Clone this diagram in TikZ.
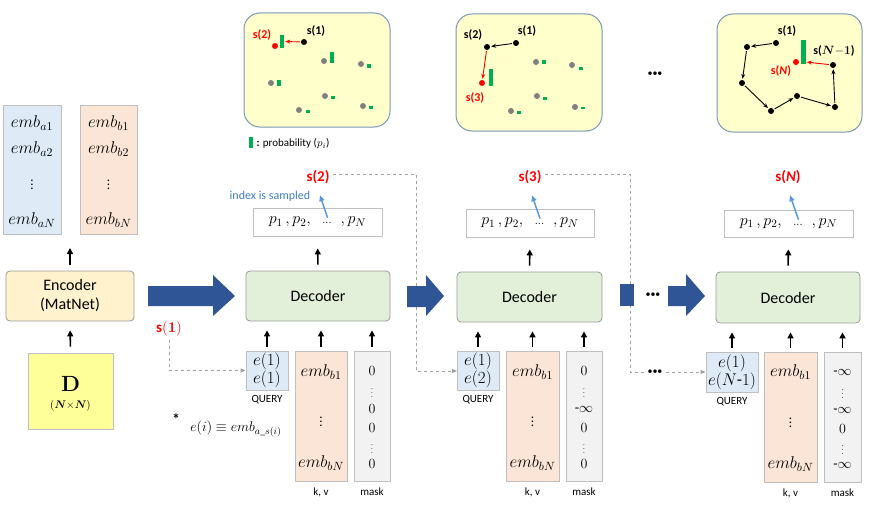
\documentclass[tikz,border=0pt]{standalone}
\usepackage{fix-cm}
\usepackage{amsmath}
\usepackage[no-math]{fontspec}
\setmainfont{Carlito}
\usetikzlibrary{arrows.meta,calc}
\definecolor{embA}{HTML}{DEEBF7}
\definecolor{embB}{HTML}{FBE5D6}
\definecolor{encF}{HTML}{FFF2CC}
\definecolor{dF}{HTML}{FFFF99}
\definecolor{decF}{HTML}{E2F0D9}
\definecolor{maskF}{HTML}{F2F2F2}
\definecolor{panelF}{HTML}{FFFFCC}
\definecolor{panelB}{HTML}{7A96B8}
\definecolor{bigblue}{HTML}{2F5597}
\definecolor{barG}{HTML}{00B050}
\definecolor{dotG}{HTML}{808080}
\definecolor{boxB}{HTML}{BFBFBF}
\definecolor{lblue}{HTML}{5B9BD5}
\definecolor{tblue}{HTML}{3D7CC0}
\definecolor{dashG}{HTML}{A0A0A0}
\newcommand{\pline}{$p_1\,, p_2,\;\;{\scriptstyle\dots}\;\;,p_N$}
\begin{document}
\begin{tikzpicture}[x=1pt,y=-1pt,
  box/.style={draw=boxB, line width=0.8pt, inner sep=0pt},
  rbox/.style={box, rounded corners=4pt, draw=dotG!80},
  blk/.style={-{Triangle[length=6pt,width=6pt]}, line width=1.6pt},
  dashln/.style={draw=dashG, dashed, line width=0.8pt},
  darr/.style={dashln, -{Triangle[length=5pt,width=4pt,fill=dashG]}},
  emb/.style={inner sep=0.5pt, font=\fontsize{17}{20}\selectfont},
  vd/.style={inner sep=0.5pt, font=\fontsize{13}{15}\selectfont},
  mk/.style={inner sep=0.5pt, font=\fontsize{14}{16}\selectfont},
  mkd/.style={inner sep=0.5pt, font=\fontsize{7}{8}\selectfont},
  slbl/.style={text=red, font=\fontsize{15}{17}\selectfont\bfseries},
  plbl/.style={inner sep=1pt, font=\fontsize{12}{14}\selectfont\bfseries},
  small/.style={inner sep=1pt, font=\fontsize{11}{13}\selectfont},
  big16/.style={font=\fontsize{16}{19}\selectfont},
  qtxt/.style={font=\fontsize{17}{13}\selectfont},
  panel/.style={draw=panelB, fill=panelF, line width=1pt, rounded corners=16pt, inner sep=0pt},
  pt/.style={circle, fill=black, inner sep=0pt, minimum size=6pt},
  gpt/.style={pt, fill=dotG},
  rpt/.style={pt, fill=red},
  gbar/.style={fill=barG, inner sep=0pt, minimum width=4pt},
  parr/.style={-{Stealth[length=5pt,width=4pt]}, line width=0.9pt, shorten >=1pt, shorten <=1pt},
  big/.style={fill=bigblue}
]
\useasboundingbox (0,0) rectangle (872,511);

% ---------- left column ----------
\node[box, fill=embA, minimum width=58pt, minimum height=129pt] (ea) at (32,169.5) {};
\node[box, fill=embB, minimum width=57pt, minimum height=129pt] (eb) at (108.5,169.5) {};
\node[emb] (ea1) at (32,123) {$emb_{a1}$};
\node[emb] (ea2) at (32,149) {$emb_{a2}$};
\node[vd] (ead) at (32,182) {$\vdots$};
\node[emb] (eaN) at (32,220) {$emb_{aN}$};
\node[emb] (eb1) at (108.5,123) {$emb_{b1}$};
\node[emb] (eb2) at (108.5,149) {$emb_{b2}$};
\node[vd] (ebd) at (108.5,182) {$\vdots$};
\node[emb] (ebN) at (108.5,220) {$emb_{bN}$};
\coordinate (embgap) at (70,248);

\node[rbox, fill=encF, minimum width=128pt, minimum height=50pt, align=center,
      font=\fontsize{16}{19}\selectfont] (enc) at (70,296) {Encoder\\(MatNet)};
\node[box, fill=dF, minimum width=85pt, minimum height=76pt] (D) at (70.5,391) {};
\node (Dt) at (70.5,384) {\fontsize{22}{24}\selectfont$\mathbf{D}$};
\node (Dn) at (70.5,406) {\fontsize{11}{12}\selectfont$(\boldsymbol{N}{\times}\boldsymbol{N})$};
\draw[blk, shorten <=6pt] (enc.north) -- (embgap);
\draw[blk, shorten <=6pt, shorten >=9pt] (D.north) -- (enc.south);

% ---------- big arrows ----------
\fill[big] (148,286) -- (213,286) -- (213,275) -- (235,296) -- (213,316) -- (213,306) -- (148,306) -- cycle;

% ---------- step 1 ----------
\node[rbox, fill=decF, minimum width=144pt, minimum height=50pt, big16] (dec1) at (318,296) {Decoder};
\node[box, fill=white, minimum width=129pt, minimum height=28pt, font=\fontsize{16}{18}\selectfont] (p1) at (317.5,222) {\pline};
\draw[blk, shorten <=6pt, shorten >=12pt] (dec1.north) -- (p1.south);
\node[slbl] (s2) at (318,177) {s(2)};
\node[text=tblue, font=\fontsize{12}{14}\selectfont] (idx) at (270,196) {index is sampled};
\draw[lblue, line width=1.5pt, -{Triangle[length=6pt,width=5pt]}] ($(p1.north)+(10,10)$) -- ($(s2.south)+(2,8)$);

\node[box, fill=embA, minimum width=42pt, minimum height=39pt, align=center, qtxt] (q1) at (267,370.5) {$e(1)$\\$e(1)$};
\node[box, fill=embB, minimum width=52pt, minimum height=130pt] (kv1) at (321,416) {};
\node[box, fill=maskF, minimum width=36pt, minimum height=130pt] (m1) at (372,416) {};
\node[small] (ql1) at (267,400) {QUERY};
\node[small] (kl1) at (321,492) {k, v};
\node[small] (ml1) at (372,492) {mask};
\node[emb] (k1a) at (321,372) {$emb_{b1}$};
\node[vd] (k1b) at (321,419) {$\vdots$};
\node[emb] (k1c) at (321,463) {$emb_{bN}$};
\node[mk] (m1a) at (372,371) {$0$};
\node[mkd] (m1b) at (372,390) {$\vdots$};
\node[mk] (m1c) at (372,409) {$0$};
\node[mk] (m1d) at (372,428) {$0$};
\node[mkd] (m1e) at (372,446) {$\vdots$};
\node[mk] (m1f) at (372,464) {$0$};
\foreach \n in {q1,kv1,m1} \draw[blk, shorten <=4pt, shorten >=9pt] (\n.north) -- (\n.north |- dec1.south);

\node[text=red, font=\fontsize{15}{17}\selectfont] (s1) at (169,329) {\textbf{s}$\mathbf{(1)}$};
\draw[darr] (s1.south) |- (q1.west);

\node (star) at (176,419) {\fontsize{15}{15}\selectfont\bfseries *};
\node[font=\fontsize{14}{16}\selectfont] (eq) at (236,429) {$e(i) \equiv emb_{a\_s(i)}$};

% ---------- step 2 ----------
\coordinate (c2) at (416,174);
\draw[darr] (s2.east |- c2) -- (c2) |- (457,371);
\fill[big] (407,286) -- (426,286) -- (426,275) -- (444,296) -- (426,316) -- (426,307) -- (407,307) -- cycle;

\node[rbox, fill=decF, minimum width=145pt, minimum height=50pt, big16] (dec2) at (529.5,297) {Decoder};
\node[box, fill=white, minimum width=128pt, minimum height=28pt, font=\fontsize{16}{18}\selectfont] (p2) at (530,223) {\pline};
\draw[blk, shorten <=6pt, shorten >=12pt] (dec2.north) -- (p2.south);
\node[slbl] (s3) at (530,177) {s(3)};
\draw[lblue, line width=1.5pt, -{Triangle[length=6pt,width=5pt]}] ($(p2.north)+(10,10)$) -- ($(s3.south)+(2,8)$);

\node[box, fill=embA, minimum width=42pt, minimum height=39pt, align=center, qtxt] (q2) at (478,370.5) {$e(1)$\\$e(2)$};
\node[box, fill=embB, minimum width=53pt, minimum height=130pt] (kv2) at (532.5,416) {};
\node[box, fill=maskF, minimum width=36pt, minimum height=130pt] (m2) at (584,416) {};
\node[small] (ql2) at (478,400) {QUERY};
\node[small] (kl2) at (532.5,492) {k, v};
\node[small] (ml2) at (584,492) {mask};
\node[emb] (k2a) at (532.5,372) {$emb_{b1}$};
\node[vd] (k2b) at (532.5,419) {$\vdots$};
\node[emb] (k2c) at (532.5,463) {$emb_{bN}$};
\node[mk] (m2a) at (584,371) {$0$};
\node[mkd] (m2b) at (584,390) {$\vdots$};
\node[mk] (m2c) at (584,409) {-$\infty$};
\node[mk] (m2d) at (584,428) {$0$};
\node[mkd] (m2e) at (584,446) {$\vdots$};
\node[mk] (m2f) at (584,464) {$0$};
\foreach \n in {q2,kv2,m2} \draw[blk, shorten <=4pt, shorten >=9pt] (\n.north) -- (\n.north |- dec2.south);

% ---------- step N ----------
\coordinate (c3) at (630,174);
\node[font=\fontsize{10}{10}\selectfont] (dotsb) at (655,372) {•••};
\draw[dashln] (s3.east |- c3) -- (c3) |- (dotsb.west);
\fill[big] (620,284) rectangle (634,306);
\node[font=\fontsize{10}{10}\selectfont] (dotsm) at (653,295) {•••};
\fill[big] (668,286) -- (686,286) -- (686,274) -- (705,296) -- (686,316) -- (686,306) -- (668,306) -- cycle;

\node[rbox, fill=decF, minimum width=144pt, minimum height=51pt, big16] (dec3) at (788,297.5) {Decoder};
\node[box, fill=white, minimum width=129pt, minimum height=27pt, font=\fontsize{16}{18}\selectfont] (p3) at (788.5,223.5) {\pline};
\draw[blk, shorten <=6pt, shorten >=12pt] (dec3.north) -- (p3.south);
\node[slbl] (sN) at (788,177) {s(\textit{N})};
\draw[lblue, line width=1.5pt, -{Triangle[length=6pt,width=5pt]}] ($(p3.north)+(10,10)$) -- ($(sN.south)+(2,8)$);

\node[box, fill=embA, minimum width=52pt, minimum height=40pt, align=center, qtxt] (q3) at (732,372) {$e(1)$\\$e(N\text{-}1)$};
\node[box, fill=embB, minimum width=53pt, minimum height=130pt] (kv3) at (790.5,417) {};
\node[box, fill=maskF, minimum width=37pt, minimum height=130pt] (m3) at (842.5,417) {};
\node[small] (ql3) at (732,402) {QUERY};
\node[small] (kl3) at (790.5,493) {k, v};
\node[small] (ml3) at (842.5,493) {mask};
\node[emb] (k3a) at (790.5,372) {$emb_{b1}$};
\node[vd] (k3b) at (790.5,420) {$\vdots$};
\node[emb] (k3c) at (790.5,464) {$emb_{bN}$};
\node[mk] (m3a) at (842.5,372) {-$\infty$};
\node[mkd] (m3b) at (842.5,391) {$\vdots$};
\node[mk] (m3c) at (842.5,410) {-$\infty$};
\node[mk] (m3d) at (842.5,429) {$0$};
\node[mkd] (m3e) at (842.5,447) {$\vdots$};
\node[mk] (m3f) at (842.5,465) {-$\infty$};
\foreach \n in {q3,kv3,m3} \draw[blk, shorten <=4pt, shorten >=9pt] (\n.north) -- (\n.north |- dec3.south);
\draw[darr] (dotsb.east) -- (q3.west);

% ---------- panel 1 ----------
\node[panel, minimum width=146pt, minimum height=114pt] (P1) at (317,70) {};
\node[rpt] (a2) at (275,46) {};
\node[gbar, minimum height=13pt] (ab2) at (282,41.5) {};
\node[pt] (a1) at (304,42) {};
\draw[red, parr] (a1) -- (ab2.east);
\node[plbl, text=red] (la2) at (262,35) {s(2)};
\node[plbl] (la1) at (316,31) {s(1)};
\node[gpt] (g11) at (324,61) {}; \node[gbar, minimum height=11pt] at (332,57.5) {};
\node[gpt] (g12) at (361,64) {}; \node[gbar, minimum height=3pt] at (369,66) {};
\node[gpt] (g13) at (271,83) {}; \node[gbar, minimum height=6pt] at (279,83) {};
\node[gpt] (g14) at (325,96) {}; \node[gbar, minimum height=3pt] at (333,97) {};
\node[gpt] (g15) at (299,110) {}; \node[gbar, minimum height=3pt] at (308,111) {};
\node[gpt] (g16) at (363,106) {}; \node[gbar, minimum height=3pt] at (371,107) {};
\node[gbar, minimum height=11pt] (legbar) at (251,142.5) {};
\node[anchor=west, font=\fontsize{11}{13}\selectfont] (legt) at (253,144) {\textbf{:} probability ($p_i$)};

% ---------- panel 2 ----------
\node[panel, minimum width=146pt, minimum height=117pt] (P2) at (529,72.5) {};
\node[pt] (b1) at (516,43) {};
\node[pt] (b2) at (487,47) {};
\node[rpt] (b3) at (482,83) {};
\node[gbar, minimum height=17pt] at (491,77.5) {};
\draw[parr] (b1) -- (b2);
\draw[red, parr] (b2) -- (b3);
\node[plbl] (lb2) at (473,35) {s(2)};
\node[plbl] (lb1) at (527,31) {s(1)};
\node[plbl, text=red] (lb3) at (475,98) {s(3)};
\node[gpt] at (536,62) {}; \node[gbar, minimum height=4pt] at (544,62) {};
\node[gpt] at (572,65) {}; \node[gbar, minimum height=3pt] at (581,68) {};
\node[gpt] at (537,96) {}; \node[gbar, minimum height=3pt] at (545,98) {};
\node[gpt] at (511,111) {}; \node[gbar, minimum height=3pt] at (519,112) {};
\node[gpt] at (575,107) {}; \node[gbar, minimum height=2pt] at (583,108) {};

\node[font=\fontsize{10}{10}\selectfont] (dotst) at (655,74) {•••};

% ---------- panel 3 ----------
\node[panel, minimum width=145pt, minimum height=118pt] (P3) at (789.5,73) {};
\node[pt] (n1) at (776,43) {};
\node[pt] (n2) at (747,47) {};
\node[pt] (n3) at (742,83) {};
\node[pt] (n4) at (771,111) {};
\node[pt] (n5) at (797,96) {};
\node[pt] (n6) at (835,107) {};
\node[pt] (n7) at (833,65) {};
\node[rpt] (n8) at (796,62) {};
\node[gbar, minimum width=5pt, minimum height=24pt] (nb) at (803,52) {};
\draw[parr] (n1) -- (n2);
\draw[parr] (n2) -- (n3);
\draw[parr] (n3) -- (n4);
\draw[parr] (n4) -- (n5);
\draw[parr] (n5) -- (n6);
\draw[parr] (n6) -- (n7);
\draw[red, parr] (n7) -- (nb.east |- n8);
\node[plbl] (ln1) at (787,31) {s(1)};
\node[plbl] (ln7) at (834,51) {s($\boldsymbol{N}{-}\mathbf{1}$)};
\node[plbl, text=red] (ln8) at (781,71) {s(\textit{N})};
\end{tikzpicture}
\end{document}
